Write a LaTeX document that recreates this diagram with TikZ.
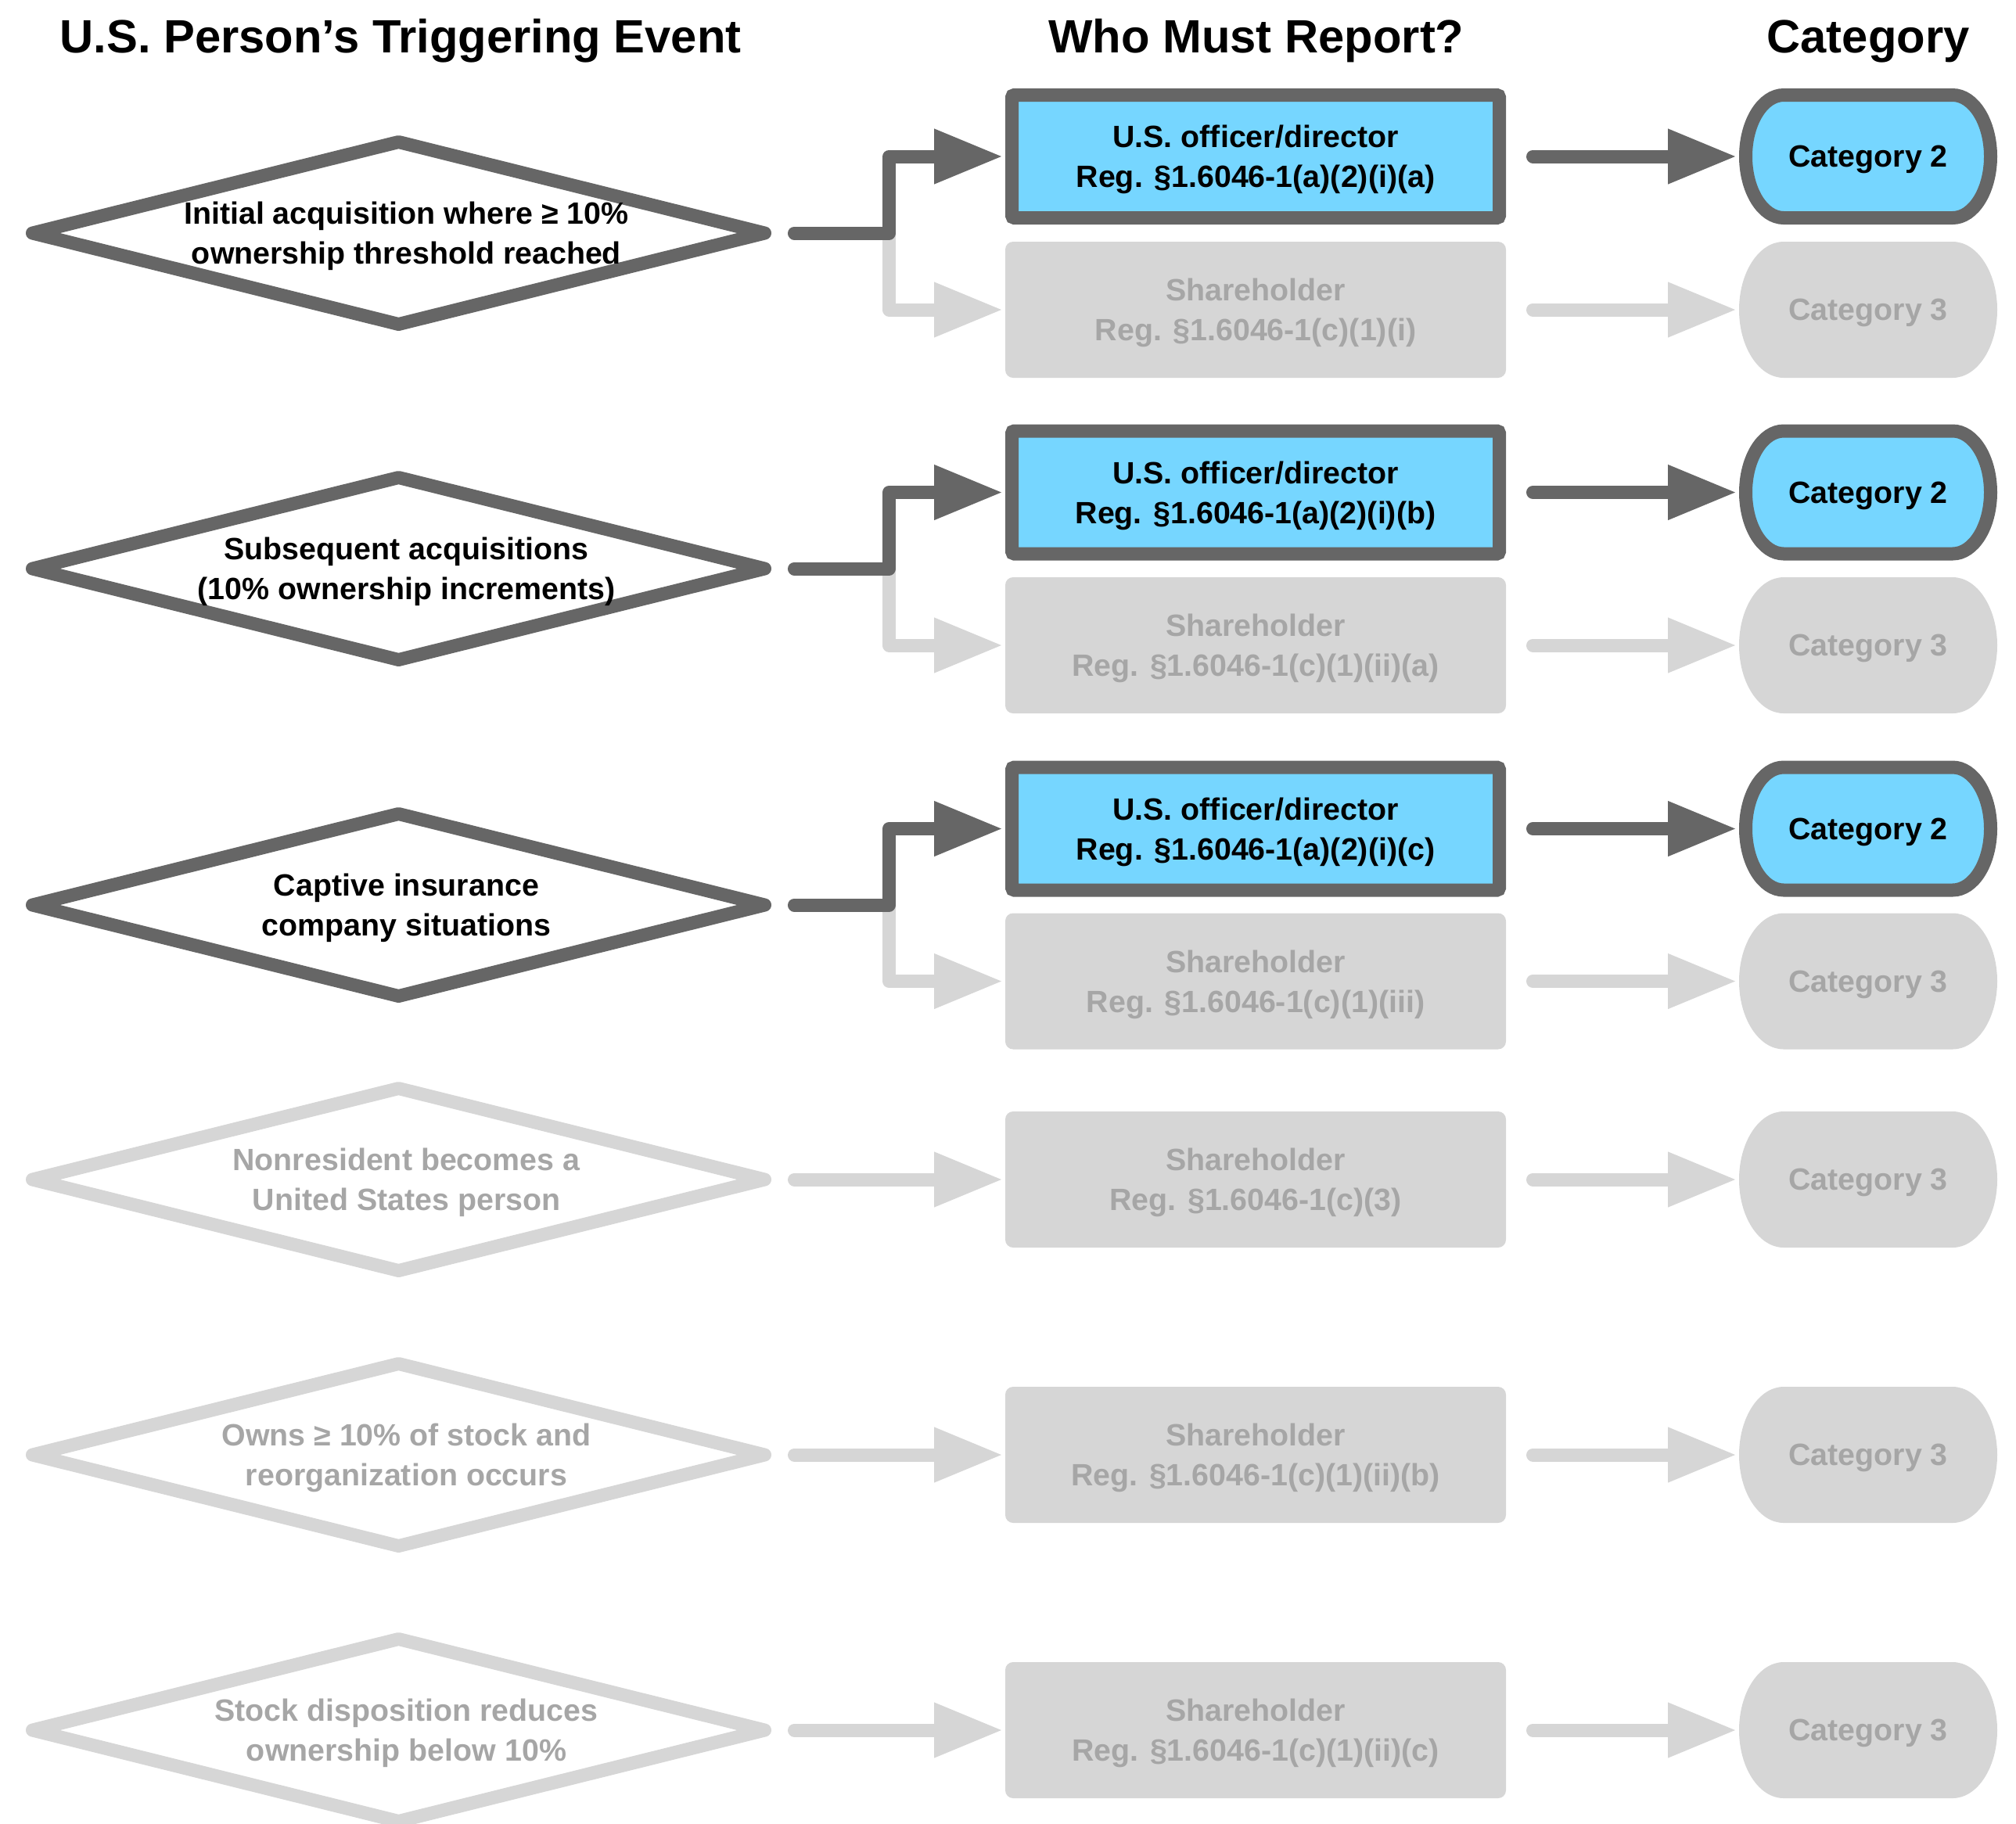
\documentclass[tikz,border=0pt]{standalone}
\usepackage{fontspec}
\setmainfont{Liberation Sans}
\usetikzlibrary{arrows.meta,shapes.geometric,backgrounds}
\definecolor{ongray}{HTML}{666666}
\definecolor{offgray}{HTML}{D6D6D6}
\definecolor{offtext}{HTML}{A6A6A6}
\definecolor{skyblue}{HTML}{76D6FF}

\begin{document}
\begin{tikzpicture}[>={Triangle[length=0.88cm,width=0.66cm]},
  lbl/.style={font=\bfseries\fontsize{11.2}{14.5}\selectfont,align=center,text depth=0pt},
  head/.style={font=\bfseries\fontsize{17}{20}\selectfont,anchor=base},
  trig/.style={diamond,line width=0.17cm,line join=round,minimum width=9.36cm,minimum height=2.33cm,inner sep=0pt,outer sep=0pt},
  trigon/.style={trig,draw=ongray},
  trigoff/.style={trig,draw=offgray},
  whoon/.style={lbl,draw=ongray,fill=skyblue,line width=0.17cm,rounded corners=0.03cm,minimum width=6.23cm,minimum height=1.57cm,inner sep=0pt},
  whooff/.style={lbl,fill=offgray,text=offtext,rounded corners=0.1cm,minimum width=6.40cm,minimum height=1.74cm,inner sep=0pt,outer sep=0pt},
  cat/.style={lbl,minimum width=3.30cm,minimum height=1.74cm,inner sep=0pt,outer sep=0pt},
  catoff/.style={cat,text=offtext},
  pillon/.style={draw=ongray,fill=skyblue,line width=0.17cm},
  pilloff/.style={fill=offgray},
  pillpath/.style 2 args={insert path={++(-1.08,-#2) arc[start angle=-90,end angle=-270,x radius=#1,y radius=#2] -- ++(2.16,0) arc[start angle=90,end angle=-90,x radius=#1,y radius=#2] -- cycle}},
  onarrow/.style={->,draw=ongray,line width=0.17cm,line cap=round,line join=round,shorten >=0.03cm},
  offarrow/.style={onarrow,draw=offgray}]
\useasboundingbox (0,0) rectangle (25.77,-23.31);

% column heads
\node[head] (h1) at (5.12,-0.67) {U.S. Person’s Triggering Event};
\node[head] (h2) at (16.06,-0.67) {Who Must Report?};
\node[head] (h3) at (23.88,-0.67) {Category};

% row 1
\node[trigon] (t1) at (5.095,-2.98) {};
\node[lbl] (l1) at ([xshift=0.1cm]t1.center) {Initial acquisition where ≥ 10\%\\ownership threshold reached};
\node[whoon] (o1) at (16.05,-2.00) {U.S. officer/director\\Reg. §1.6046-1(a)(2)(i)(a)};
\node[whooff] (s1) at (16.05,-3.96) {Shareholder\\Reg. §1.6046-1(c)(1)(i)};
\node[cat] (co1) at (23.88,-2.00) {Category 2};
\node[catoff] (cs1) at (23.88,-3.96) {Category 3};
\draw[offarrow] ([xshift=0.38cm]t1.east) -- ++(1.21,0) |- (s1.west);
\draw[onarrow] ([xshift=0.38cm]t1.east) -- ++(1.21,0) |- (o1.west);
\draw[onarrow] ([xshift=0.345cm]o1.east) -- (co1.west);
\draw[offarrow] ([xshift=0.345cm]s1.east) -- (cs1.west);

% row 2
\node[trigon] (t2) at (5.095,-7.27) {};
\node[lbl] (l2) at ([xshift=0.1cm]t2.center) {Subsequent acquisitions\\(10\% ownership increments)};
\node[whoon] (o2) at (16.05,-6.295) {U.S. officer/director\\Reg. §1.6046-1(a)(2)(i)(b)};
\node[whooff] (s2) at (16.05,-8.25) {Shareholder\\Reg. §1.6046-1(c)(1)(ii)(a)};
\node[cat] (co2) at (23.88,-6.295) {Category 2};
\node[catoff] (cs2) at (23.88,-8.25) {Category 3};
\draw[offarrow] ([xshift=0.38cm]t2.east) -- ++(1.21,0) |- (s2.west);
\draw[onarrow] ([xshift=0.38cm]t2.east) -- ++(1.21,0) |- (o2.west);
\draw[onarrow] ([xshift=0.345cm]o2.east) -- (co2.west);
\draw[offarrow] ([xshift=0.345cm]s2.east) -- (cs2.west);

% row 3
\node[trigon] (t3) at (5.095,-11.57) {};
\node[lbl] (l3) at ([xshift=0.1cm]t3.center) {Captive insurance\\company situations};
\node[whoon] (o3) at (16.05,-10.595) {U.S. officer/director\\Reg. §1.6046-1(a)(2)(i)(c)};
\node[whooff] (s3) at (16.05,-12.545) {Shareholder\\Reg. §1.6046-1(c)(1)(iii)};
\node[cat] (co3) at (23.88,-10.595) {Category 2};
\node[catoff] (cs3) at (23.88,-12.545) {Category 3};
\draw[offarrow] ([xshift=0.38cm]t3.east) -- ++(1.21,0) |- (s3.west);
\draw[onarrow] ([xshift=0.38cm]t3.east) -- ++(1.21,0) |- (o3.west);
\draw[onarrow] ([xshift=0.345cm]o3.east) -- (co3.west);
\draw[offarrow] ([xshift=0.345cm]s3.east) -- (cs3.west);

% rows 4-6, not triggered
\node[trigoff] (t4) at (5.095,-15.08) {};
\node[lbl,text=offtext] (l4) at ([xshift=0.1cm]t4.center) {Nonresident becomes a\\United States person};
\node[whooff] (s4) at (16.05,-15.08) {Shareholder\\Reg. §1.6046-1(c)(3)};
\node[catoff] (cs4) at (23.88,-15.08) {Category 3};
\draw[offarrow] ([xshift=0.38cm]t4.east) -- (s4.west);
\draw[offarrow] ([xshift=0.345cm]s4.east) -- (cs4.west);

\node[trigoff] (t5) at (5.095,-18.60) {};
\node[lbl,text=offtext] (l5) at ([xshift=0.1cm]t5.center) {Owns ≥ 10\% of stock and\\reorganization occurs};
\node[whooff] (s5) at (16.05,-18.60) {Shareholder\\Reg. §1.6046-1(c)(1)(ii)(b)};
\node[catoff] (cs5) at (23.88,-18.60) {Category 3};
\draw[offarrow] ([xshift=0.38cm]t5.east) -- (s5.west);
\draw[offarrow] ([xshift=0.345cm]s5.east) -- (cs5.west);

\node[trigoff] (t6) at (5.095,-22.12) {};
\node[lbl,text=offtext] (l6) at ([xshift=0.1cm]t6.center) {Stock disposition reduces\\ownership below 10\%};
\node[whooff] (s6) at (16.05,-22.12) {Shareholder\\Reg. §1.6046-1(c)(1)(ii)(c)};
\node[catoff] (cs6) at (23.88,-22.12) {Category 3};
\draw[offarrow] ([xshift=0.38cm]t6.east) -- (s6.west);
\draw[offarrow] ([xshift=0.345cm]s6.east) -- (cs6.west);

% pill outlines behind the category labels
\begin{scope}[on background layer]
\foreach \c in {co1,co2,co3} \draw[pillon] (\c.center) [pillpath={0.485cm}{0.785cm}];
\foreach \c in {cs1,cs2,cs3,cs4,cs5,cs6} \path[pilloff] (\c.center) [pillpath={0.57cm}{0.87cm}];
\end{scope}
\end{tikzpicture}
\end{document}
